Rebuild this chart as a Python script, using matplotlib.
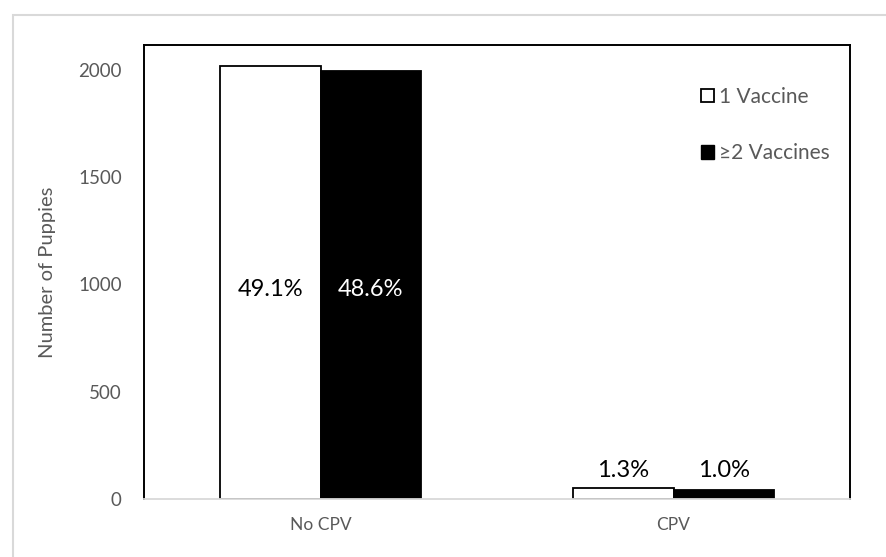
import matplotlib.pyplot as plt
import numpy as np
from matplotlib.patches import Patch, Rectangle

plt.rcParams['font.family'] = ['Lato', 'DejaVu Sans']

# data
groups = ["No CPV", "CPV"]
series = ["1 Vaccine", "\u22652 Vaccines"]
one_vaccine = [2015, 53]
two_vaccines = [1992, 41]
pct_one = ["49.1%", "1.3%"]
pct_two = ["48.6%", "1.0%"]
yticks = [0, 500, 1000, 1500, 2000]

grey = "#595959"

fig = plt.figure(figsize=(8.86, 5.57), dpi=100)
W, H = 886, 557
ax = fig.add_axes([144 / W, 1 - 499 / H, (850 - 144) / W, (499 - 45) / H])

# light outer border of the chart area
fig.patches.append(Rectangle((13 / W, -0.1), 1.2, 1 - 15 / H + 0.1,
                             transform=fig.transFigure, fill=False,
                             edgecolor="#d9d9d9", linewidth=1.5))

x = np.arange(len(groups))
w = 0.285
ax.bar(x - w / 2, one_vaccine, w, color="white", edgecolor="black", linewidth=1.3)
ax.bar(x + w / 2, two_vaccines, w, color="black", edgecolor="black", linewidth=1.3)

# percent labels: inside the big bars, above the small ones
for i in range(len(groups)):
    if one_vaccine[i] > 500:
        ax.text(x[i] - w / 2, 975, pct_one[i], ha="center", va="center",
                fontsize=17, color="black")
        ax.text(x[i] + w / 2, 975, pct_two[i], ha="center", va="center",
                fontsize=17, color="white")
    else:
        ax.text(x[i] - w / 2, one_vaccine[i] + 80, pct_one[i], ha="center",
                va="center", fontsize=17, color="black")
        ax.text(x[i] + w / 2, one_vaccine[i] + 80, pct_two[i], ha="center",
                va="center", fontsize=17, color="black")

ax.set_xlim(-0.5, 1.5)
ax.set_ylim(0, 2115)
ax.set_xticks(x)
ax.set_xticklabels(groups, color=grey, fontsize=12.5)
ax.set_yticks(yticks)
ax.set_yticklabels([str(t) for t in yticks], color=grey, fontsize=13.5)
ax.tick_params(length=0)
ax.tick_params(axis="y", pad=16)
ax.tick_params(axis="x", pad=13)

for side in ["left", "top", "right"]:
    ax.spines[side].set_color("black")
    ax.spines[side].set_linewidth(1.4)
ax.spines["bottom"].set_color("#d9d9d9")
ax.spines["bottom"].set_linewidth(1.3)

ax.set_ylabel("Number of Puppies", color=grey, fontsize=14.5)
ax.yaxis.set_label_coords(-0.125, 0.5)

handles = [Patch(facecolor="white", edgecolor="black", linewidth=1.3),
           Patch(facecolor="black", edgecolor="black")]
ax.legend(handles, series, loc="upper left", bbox_to_anchor=(0.769, 0.94),
          frameon=False, fontsize=15, labelcolor=grey, handlelength=0.6,
          handleheight=0.6, handletextpad=0.25, labelspacing=1.75,
          borderpad=0.2)

fig.savefig("out.png", dpi=100)
